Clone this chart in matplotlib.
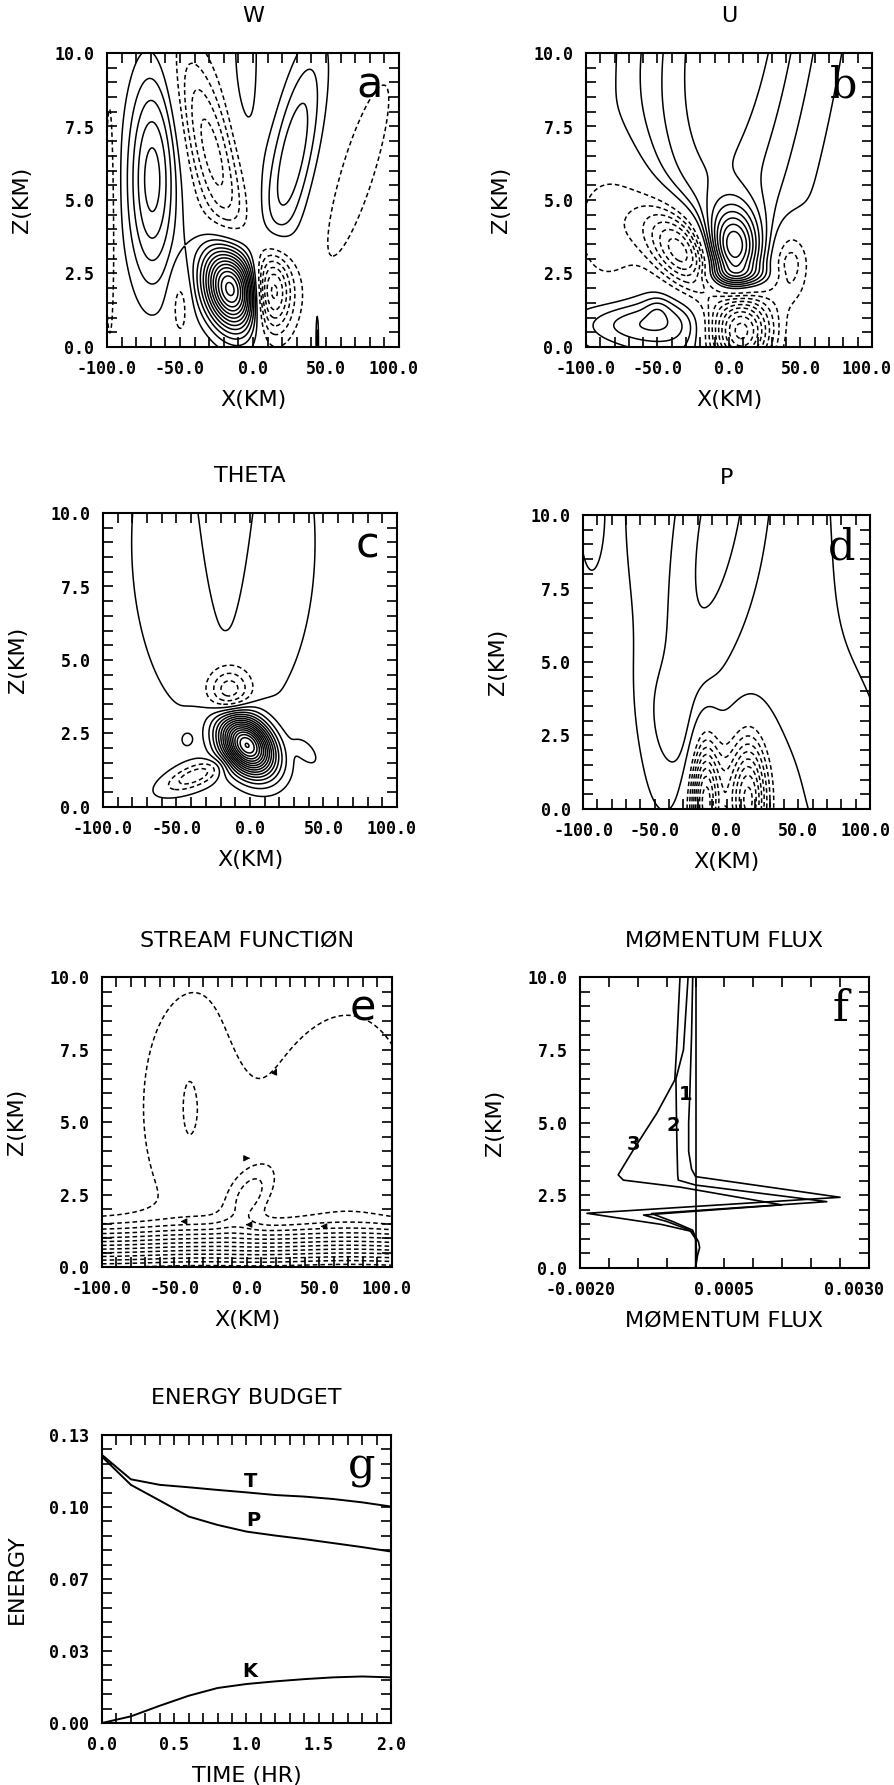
import numpy as np
import matplotlib
matplotlib.use("Agg")
import matplotlib.pyplot as plt
from matplotlib.ticker import MultipleLocator, FixedLocator, FixedFormatter
from matplotlib.transforms import ScaledTranslation

# ---------------------------------------------------------------
# data
# contour panels are built from a few tilted gaussian cells:
# centre x (km), centre z (km), amplitude (contour steps), width x, width z, tilt (km per km)
# ---------------------------------------------------------------
W_X0 = [-69, -28, -5, 27, -15, 12, 72, -50, -98, 44]
W_Z0 = [5.7, 6.6, 10.0, 6.5, 2.0, 1.9, 6.0, 1.5, 4.5, 0.3]
W_AMP = [5.5, -4.5, 1.5, 3.8, 14.0, -8.0, -1.6, -2.0, -2.0, 2.5]
W_SX = [12, 12, 8, 11, 13, 10, 12, 5, 3, 0.7]
W_SZ = [2.5, 2.5, 3.0, 2.6, 1.0, 1.0, 3.0, 0.9, 3.5, 0.7]
W_TILT = [0, -5, 0, 4, -3, 0, 6, 0, 0, 0]

U_X0 = [3, 3, -32, 8, -65, 42, -88, -75, -50, 5]
U_Z0 = [3.3, 11.5, 3.2, 0.6, 0.8, 2.8, 10, 4.0, 1.3, 2.45]
U_AMP = [9, 5, -9, -11, 3, -3.5, -1.5, -3.0, 1.0, 2]
U_SX = [13, 45, 16, 16, 30, 10, 4, 25, 6, 18]
U_SZ = [1.0, 8.5, 1.1, 1.0, 0.55, 0.9, 1.0, 2.0, 0.3, 0.25]
U_TILT = [0, 3, -8, 0, 0, 0, 0, 0, 0, 0]

# first cell is the flat background level of the theta field
T_X0 = [0, -18, -17, -2, -14, -38, -43, 38]
T_Z0 = [5, 9, 11, 2.1, 3.9, 1.05, 2.3, 1.9]
T_AMP = [1.5, -1.2, 1.2, 16, -4, -3, 1.2, 1.2]
T_SX = [1000, 47, 16, 12, 10, 10, 4, 5]
T_SZ = [1000, 5, 3.8, 0.7, 0.55, 0.35, 0.25, 0.35]
T_TILT = [0, 0, 0, -6, 0, 25, 0, -10]

P_X0 = [0, -5, -110, -35, -95, 95, -15, 16, 3]
P_Z0 = [10, 10, 2, 2.5, 10, 0, 0.3, 0.3, 0.5]
P_AMP = [2.0, 1.4, -1.1, 1.0, 1.2, 1.0, -8, -7, -3]
P_SX = [60, 18, 25, 15, 6, 30, 7, 9, 18]
P_SZ = [8, 6, 3, 1.5, 1.5, 4, 1.5, 1.5, 1.4]
P_TILT = [0, 4, 0, -5, 0, 0, 0, 0, 0]

S_X0 = [-35, 70, -2, -40, 2]
S_Z0 = [5.5, 4.5, 8.0, 5.5, 2.5]
S_AMP = [-1.9, -1.95, 0.4, -0.35, -2.5]
S_SX = [32, 40, 15, 3, 10]
S_SZ = [3.5, 3.6, 2.0, 0.7, 0.7]
S_TILT = [0, 0, 0, 0, 8]
S_LAYER_TOP = 1.6      # km, top of the dense lower layer
S_LAYER_GRAD = 8.0     # contour steps per km in that layer
S_ARROW_X = [19.5, 1.1, -44.8, 0.0, 51.7]
S_ARROW_Z = [6.73, 3.75, 1.57, 1.46, 1.40]
S_ARROW_DX = [1.0, 1.0, -1.0, -1.0, -1.0]
S_ARROW_DZ = [0.12, 0.0, 0.0, 0.0, 0.0]

# momentum flux profiles (units of 1e-3)
F1_Z = [10, 8, 6, 5, 4, 3.4, 3.14, 2.43, 1.88, 1.5, 1.25, 0.9, 0.7, 0.4, 0]
F1_X = [-0.05, -0.07, -0.1, -0.12, -0.12, -0.07, 0.0, 2.5, -1.88, -0.6, -0.05, 0.05, 0.07, 0.03, 0]
F2_Z = [10, 7.5, 6.5, 5, 4, 3.2, 3.02, 2.85, 2.28, 1.87, 1.6, 1.3, 1.0, 0.5, 0]
F2_X = [-0.13, -0.21, -0.34, -0.33, -0.32, -0.31, -0.3, 0.0, 2.27, -0.76, -0.4, -0.05, 0.0, 0.02, 0]
F3_Z = [10, 7.5, 6.46, 5.32, 4.05, 3.2, 3.02, 2.78, 2.17, 1.82, 1.6, 1.3, 1.0, 0.5, 0]
F3_X = [-0.27, -0.33, -0.36, -0.67, -1.08, -1.34, -1.25, -0.27, 1.49, -0.9, -0.5, -0.1, 0.0, 0.0, 0]
F_LABELS = ["1", "2", "3"]
F_LABEL_X = [-0.18, -0.39, -1.08]
F_LABEL_Z = [5.95, 4.91, 4.23]

# energy budget
G_TIME = [0.0, 0.2, 0.4, 0.6, 0.8, 1.0, 1.2, 1.4, 1.6, 1.8, 2.0]
G_T = [0.121, 0.110, 0.1075, 0.1064, 0.1052, 0.1041, 0.1029, 0.1022, 0.1011, 0.0996, 0.0977]
G_P = [0.1202, 0.1075, 0.1004, 0.0932, 0.0894, 0.0864, 0.0846, 0.083, 0.0812, 0.0794, 0.0774]
G_K = [0.0, 0.003, 0.0078, 0.0123, 0.0158, 0.0176, 0.0188, 0.0198, 0.0206, 0.021, 0.0206]
G_LABELS = ["T", "P", "K"]
G_LABEL_T = [1.03, 1.05, 1.02]
G_LABEL_E = [0.1045, 0.0872, 0.0188]

# ---------------------------------------------------------------
W, H = 895, 1785
fig = plt.figure(figsize=(W / 100, H / 100), dpi=100)
fig.patch.set_facecolor("white")

TICKFONT = dict(family="DejaVu Sans Mono", weight="bold", size=12)
LABFONT = dict(family="DejaVu Sans", size=16)

xs = np.linspace(-100, 100, 401)
zs = np.linspace(0, 10, 301)
XG, ZG = np.meshgrid(xs, zs)


def cells(x0s, z0s, amps, sxs, szs, tilts):
    f = np.zeros_like(XG)
    for x0, z0, a, sx, sz, t in zip(x0s, z0s, amps, sxs, szs, tilts):
        dx = XG - x0 - t * (ZG - z0)
        f += a * np.exp(-0.5 * (dx / sx) ** 2 - 0.5 * ((ZG - z0) / sz) ** 2)
    return f


def add_panel(l, t, r, b):
    return fig.add_axes([l / W, 1 - b / H, (r - l) / W, (b - t) / H])


def style(ax, title, letter, serif, xlabel="X(KM)", ylabel="Z(KM)", last_shift=-5):
    for s in ax.spines.values():
        s.set_linewidth(1.5)
    ax.tick_params(which="both", direction="in", top=True, right=True,
                   length=7, width=1.2, pad=9)
    for lab in ax.get_xticklabels() + ax.get_yticklabels():
        lab.set_fontproperties(matplotlib.font_manager.FontProperties(**TICKFONT))
    # the right-most x label sits a little inside, as in the original plot
    lab = ax.get_xticklabels()[-1]
    lab.set_transform(lab.get_transform() + ScaledTranslation(last_shift / 100, 0, fig.dpi_scale_trans))
    ax.set_title(title, pad=22, **LABFONT)
    if xlabel:
        ax.set_xlabel(xlabel, labelpad=9, **LABFONT)
    ax.set_ylabel(ylabel, labelpad=16, **LABFONT)
    fam = "DejaVu Serif" if serif else "DejaVu Sans"
    ax.text(0.9, 0.85, letter, transform=ax.transAxes, ha="center", va="baseline",
            fontsize=31, family=fam)


def xz_axes(ax):
    ax.set_xlim(-100, 100)
    ax.set_ylim(0, 10)
    ax.xaxis.set_major_locator(FixedLocator([-100, -50, 0, 50, 100]))
    ax.xaxis.set_major_formatter(FixedFormatter(["-100.0", "-50.0", "0.0", "50.0", "100.0"]))
    ax.xaxis.set_minor_locator(MultipleLocator(10))
    ax.yaxis.set_major_locator(FixedLocator([0, 2.5, 5, 7.5, 10]))
    ax.yaxis.set_major_formatter(FixedFormatter(["0.0", "2.5", "5.0", "7.5", "10.0"]))
    ax.yaxis.set_minor_locator(MultipleLocator(0.5))


def draw(ax, field, levels):
    styles = ["solid" if lv > 0 else (0, (3.0, 2.0)) for lv in levels]
    ax.contour(XG, ZG, field, levels=levels, colors="k", linewidths=1.1, linestyles=styles)


# (a) W
ax = add_panel(107, 53, 399, 347)
xz_axes(ax)
draw(ax, cells(W_X0, W_Z0, W_AMP, W_SX, W_SZ, W_TILT),
     [lv for lv in range(-14, 15) if lv != 0])
style(ax, "W", "a", False)

# (b) U
ax = add_panel(586, 53, 872, 347)
xz_axes(ax)
draw(ax, cells(U_X0, U_Z0, U_AMP, U_SX, U_SZ, U_TILT),
     [lv for lv in range(-14, 15) if lv != 0])
style(ax, "U", "b", True)

# (c) THETA
ax = add_panel(103, 513, 397, 807)
xz_axes(ax)
draw(ax, cells(T_X0, T_Z0, T_AMP, T_SX, T_SZ, T_TILT), list(range(-3, 18)))
style(ax, "THETA", "c", False)

# (d) P
ax = add_panel(583, 515, 870, 809)
xz_axes(ax)
draw(ax, cells(P_X0, P_Z0, P_AMP, P_SX, P_SZ, P_TILT),
     [lv for lv in range(-14, 4) if lv != 0])
style(ax, "P", "d", True)

# (e) stream function
ax = add_panel(102, 977, 392, 1267)
xz_axes(ax)
layer = -S_LAYER_GRAD * 0.25 * np.log1p(np.exp((S_LAYER_TOP - ZG) / 0.25))
draw(ax, layer + cells(S_X0, S_Z0, S_AMP, S_SX, S_SZ, S_TILT), list(range(-13, 0)))
for x, z, dx, dz in zip(S_ARROW_X, S_ARROW_Z, S_ARROW_DX, S_ARROW_DZ):
    ax.annotate("", xy=(x + dx, z + dz), xytext=(x, z),
                arrowprops=dict(arrowstyle="-|>", color="k", lw=0.8, mutation_scale=9))
style(ax, "STREAM FUNCTIØN", "e", False)

# (f) momentum flux
ax = add_panel(580, 977, 869, 1268)
ax.set_xlim(-0.002, 0.003)
ax.set_ylim(0, 10)
ax.axvline(0, color="k", lw=1.2)
for zz, xx in [(F1_Z, F1_X), (F2_Z, F2_X), (F3_Z, F3_X)]:
    ax.plot(np.array(xx) * 1e-3, zz, color="k", lw=1.2)
for s, x, z in zip(F_LABELS, F_LABEL_X, F_LABEL_Z):
    ax.text(x * 1e-3, z, s, ha="center", va="center", fontsize=14, weight="bold")
ax.xaxis.set_major_locator(FixedLocator([-0.002, 0.0005, 0.003]))
ax.xaxis.set_major_formatter(FixedFormatter(["-0.0020", "0.0005", "0.0030"]))
ax.xaxis.set_minor_locator(MultipleLocator(0.0005))
ax.yaxis.set_major_locator(FixedLocator([0, 2.5, 5, 7.5, 10]))
ax.yaxis.set_major_formatter(FixedFormatter(["0.0", "2.5", "5.0", "7.5", "10.0"]))
ax.yaxis.set_minor_locator(MultipleLocator(0.5))
style(ax, "MØMENTUM FLUX", "f", True, xlabel="MØMENTUM FLUX", last_shift=-15)

# (g) energy budget
ax = add_panel(102, 1435, 391, 1723)
ax.set_xlim(0, 2)
ax.set_ylim(0, 0.13)
for series in (G_T, G_P, G_K):
    ax.plot(G_TIME, series, color="k", lw=1.4)
for s, t, e in zip(G_LABELS, G_LABEL_T, G_LABEL_E):
    ax.text(t, e, s, ha="center", va="bottom", fontsize=14, weight="bold")
ax.xaxis.set_major_locator(FixedLocator([0, 0.5, 1.0, 1.5, 2.0]))
ax.xaxis.set_major_formatter(FixedFormatter(["0.0", "0.5", "1.0", "1.5", "2.0"]))
ax.xaxis.set_minor_locator(MultipleLocator(0.1))
ax.yaxis.set_major_locator(FixedLocator(np.linspace(0, 0.13, 5)))
ax.yaxis.set_major_formatter(FixedFormatter(["0.00", "0.03", "0.07", "0.10", "0.13"]))
ax.yaxis.set_minor_locator(MultipleLocator(0.0065))
style(ax, "ENERGY BUDGET", "g", True, xlabel="TIME (HR)", ylabel="ENERGY", last_shift=0)

fig.savefig("out.png", dpi=100, facecolor="white")
